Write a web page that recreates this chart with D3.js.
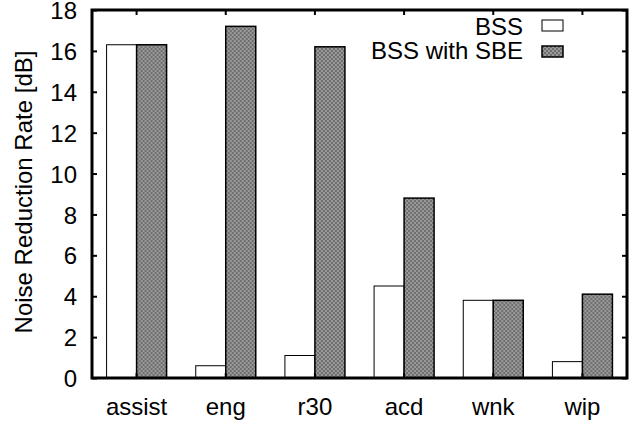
<!DOCTYPE html>
<html>
<head>
<meta charset="utf-8">
<script src="https://cdn.jsdelivr.net/npm/d3@7"></script>
<style>
  html, body { margin: 0; padding: 0; background: #fff; }
  svg { display: block; }
  text { font-family: "Liberation Sans", Arial, sans-serif; fill: #000; }
</style>
</head>
<body>
<script>
const categories = ["assist", "eng", "r30", "acd", "wnk", "wip"];
const seriesNames = ["BSS", "BSS with SBE"];
const bssValues = [16.3, 0.6, 1.1, 4.5, 3.8, 0.8];
const sbeValues = [16.3, 17.2, 16.2, 8.8, 3.8, 4.1];
const yTicks = [0, 2, 4, 6, 8, 10, 12, 14, 16, 18];

const W = 642, H = 421;
const margin = { left: 92, right: 15, top: 10, bottom: 43 };
const FS = "24px";

const svg = d3.select("body").append("svg").attr("width", W).attr("height", H);

const defs = svg.append("defs");
const pat = defs.append("pattern").attr("id", "checker")
  .attr("patternUnits", "userSpaceOnUse").attr("width", 4).attr("height", 4);
pat.append("rect").attr("width", 4).attr("height", 4).attr("fill", "#9a9a9a");
pat.append("rect").attr("width", 2).attr("height", 2).attr("fill", "#6e6e6e");
pat.append("rect").attr("x", 2).attr("y", 2).attr("width", 2).attr("height", 2).attr("fill", "#6e6e6e");

const x0 = d3.scaleBand().domain(categories).range([margin.left, W - margin.right]).paddingInner(0).paddingOuter(0);
const x1 = d3.scaleBand().domain(seriesNames).range([0, 60]);
const y = d3.scaleLinear().domain([0, 18]).range([H - margin.bottom, margin.top]);

const data = categories.map((c, i) => ({ cat: c, vals: [bssValues[i], sbeValues[i]] }));

const groups = svg.append("g").selectAll("g").data(data).join("g")
  .attr("transform", d => `translate(${x0(d.cat) + x0.bandwidth() / 2 - 30},0)`);

groups.selectAll("rect").data(d => d.vals.map((v, j) => ({ v, s: seriesNames[j], j })))
  .join("rect")
  .attr("x", d => x1(d.s))
  .attr("y", d => y(d.v))
  .attr("width", x1.bandwidth())
  .attr("height", d => y(0) - y(d.v))
  .attr("fill", d => d.j === 0 ? "#fff" : "url(#checker)")
  .attr("stroke", "#000")
  .attr("stroke-width", d => d.j === 0 ? 1 : 1.5);

// Axes
const tickLen = 5;
const xBottom = d3.axisBottom(x0).tickSize(-tickLen).tickPadding(20);
const xTop = d3.axisTop(x0).tickSize(-tickLen).tickFormat("");
const yLeft = d3.axisLeft(y).tickValues(yTicks).tickSize(-tickLen).tickPadding(15);
const yRight = d3.axisRight(y).tickValues(yTicks).tickSize(-tickLen).tickFormat("");

function style(g) {
  g.select(".domain").remove();
  g.selectAll(".tick line").attr("stroke", "#000").attr("stroke-width", 2);
  g.selectAll("text").style("font-size", FS).style("font-family", '"Liberation Sans", Arial, sans-serif').attr("fill", "#000");
}
svg.append("g").attr("transform", `translate(0,${H - margin.bottom})`).call(xBottom).call(style);
svg.append("g").attr("transform", `translate(0,${margin.top})`).call(xTop).call(style);
const yl = svg.append("g").attr("transform", `translate(${margin.left},0)`).call(yLeft).call(style);
yl.selectAll(".tick text").attr("dy", "0.36em");
svg.append("g").attr("transform", `translate(${W - margin.right},0)`).call(yRight).call(style);

// frame
svg.append("rect")
  .attr("x", margin.left).attr("y", margin.top)
  .attr("width", W - margin.left - margin.right)
  .attr("height", H - margin.top - margin.bottom)
  .attr("fill", "none").attr("stroke", "#000").attr("stroke-width", 3);

// y axis title
svg.append("text")
  .attr("transform", `translate(32,${(margin.top + H - margin.bottom) / 2 - 2}) rotate(-90)`)
  .attr("text-anchor", "middle")
  .style("font-size", FS)
  .text("Noise Reduction Rate [dB]");

// legend
const legend = svg.append("g");
seriesNames.forEach((s, i) => {
  const base = 35 + i * 24;
  legend.append("text").attr("x", 523).attr("y", base).attr("text-anchor", "end")
    .style("font-size", FS).text(s);
  legend.append("rect").attr("x", 542).attr("y", 20 + i * 26).attr("width", 21).attr("height", 11)
    .attr("fill", i === 0 ? "#fff" : "url(#checker)")
    .attr("stroke", "#000").attr("stroke-width", i === 0 ? 1 : 1.5);
});
</script>
</body>
</html>
